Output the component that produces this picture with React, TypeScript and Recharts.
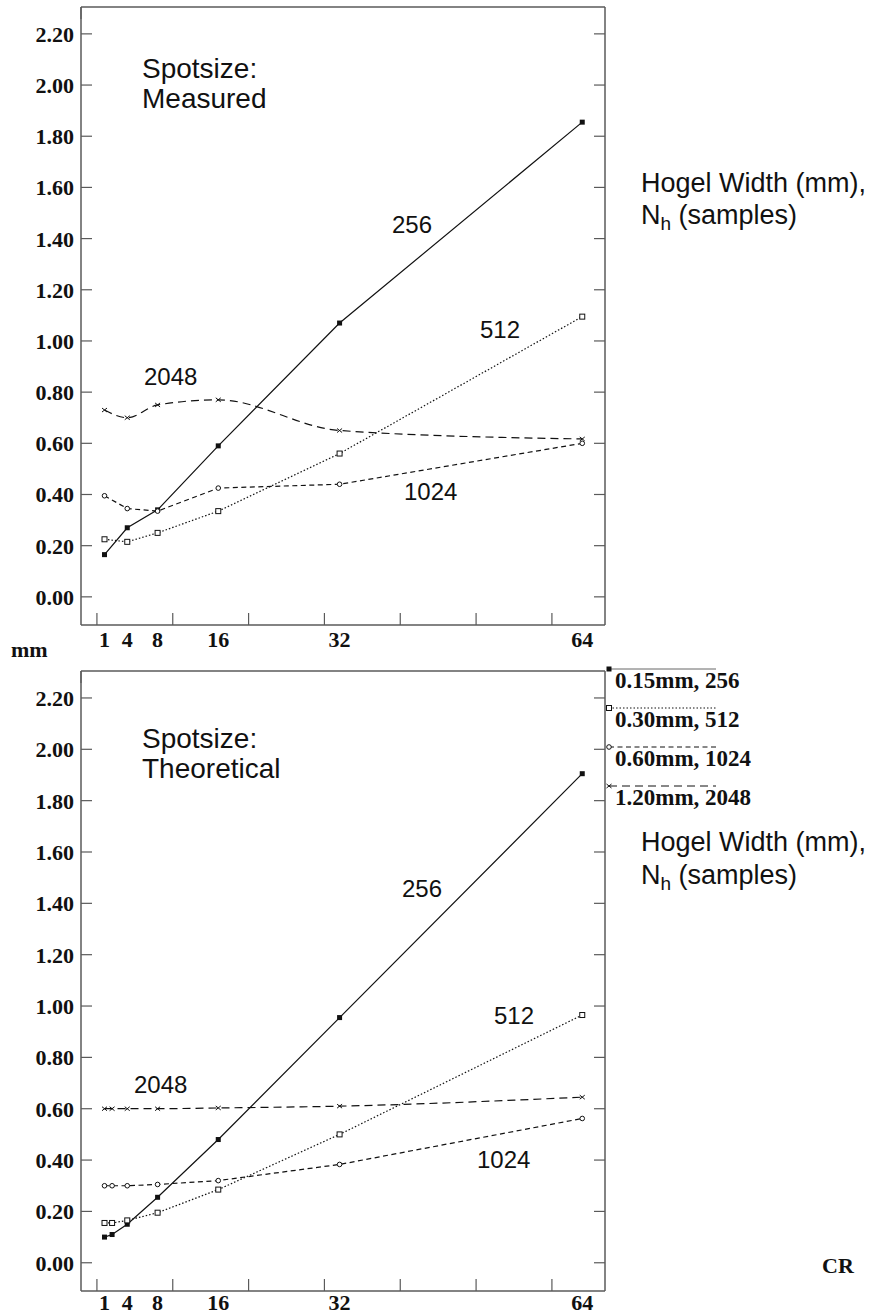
import { LineChart, Line, XAxis, YAxis } from "recharts";

// compression ratio (x) and spot size in mm (y)
const MEASURED_CR = [1, 4, 8, 16, 32, 64];
const MEASURED_256 = [0.165, 0.27, 0.34, 0.59, 1.07, 1.855];
const MEASURED_512 = [0.225, 0.215, 0.25, 0.335, 0.56, 1.095];
const MEASURED_1024 = [0.395, 0.345, 0.335, 0.425, 0.44, 0.6];
const MEASURED_2048 = [0.73, 0.7, 0.75, 0.77, 0.65, 0.617];

const THEORY_CR = [1, 2, 4, 8, 16, 32, 64];
const THEORY_256 = [0.1, 0.11, 0.15, 0.255, 0.48, 0.955, 1.905];
const THEORY_512 = [0.155, 0.155, 0.165, 0.195, 0.285, 0.5, 0.965];
const THEORY_1024 = [0.3, 0.3, 0.3, 0.305, 0.32, 0.383, 0.562];
const THEORY_2048 = [0.6, 0.6, 0.6, 0.6, 0.603, 0.61, 0.645];

const Y_TICKS = [0, 0.2, 0.4, 0.6, 0.8, 1, 1.2, 1.4, 1.6, 1.8, 2, 2.2];
const X_MARKS = [0, 10, 20, 30, 40, 50, 60];
const X_LABELS = [1, 4, 8, 16, 32, 64];
const LEGEND_LABELS = ["0.15mm, 256", "0.30mm, 512", "0.60mm, 1024", "1.20mm, 2048"];

const X_DOMAIN: [number, number] = [-2.1, 67];
const Y_DOMAIN: [number, number] = [-0.11, 2.305];

const FRAME = "#5a5a5a";
const INK = "#111";
const SERIF = "'Liberation Serif', 'Times New Roman', serif";
const SANS = "'Liberation Sans', Arial, Helvetica, sans-serif";

const SERIES = [
  { key: "s256", dash: undefined, marker: "filledSquare", curve: "linear" },
  { key: "s512", dash: "1.5 2", marker: "openSquare", curve: "linear" },
  { key: "s1024", dash: "5 3.5", marker: "openCircle", curve: "linear" },
  { key: "s2048", dash: "8 5", marker: "cross", curve: "monotone" },
];

const measuredData = MEASURED_CR.map((cr, i) => ({
  cr,
  s256: MEASURED_256[i],
  s512: MEASURED_512[i],
  s1024: MEASURED_1024[i],
  s2048: MEASURED_2048[i],
}));

const theoryData = THEORY_CR.map((cr, i) => ({
  cr,
  s256: THEORY_256[i],
  s512: THEORY_512[i],
  s1024: THEORY_1024[i],
  s2048: THEORY_2048[i],
}));

function Marker({ cx, cy, kind }: { cx: number; cy: number; kind: string }) {
  if (cx == null || cy == null) return null;
  if (kind === "filledSquare")
    return <rect x={cx - 2.5} y={cy - 2.5} width={5} height={5} fill={INK} />;
  if (kind === "openSquare")
    return <rect x={cx - 2.5} y={cy - 2.5} width={5} height={5} fill="#fff" stroke={INK} strokeWidth={1} />;
  if (kind === "openCircle")
    return <circle cx={cx} cy={cy} r={2.3} fill="#fff" stroke={INK} strokeWidth={1} />;
  return (
    <g stroke={INK} strokeWidth={1}>
      <line x1={cx - 2.5} y1={cy - 2} x2={cx + 2.5} y2={cy + 2} />
      <line x1={cx - 2.5} y1={cy + 2} x2={cx + 2.5} y2={cy - 2} />
    </g>
  );
}

const makeBottomTick = (labelDy: number) => (p: any) => {
  const v = p.payload.value;
  return (
    <g>
      {X_MARKS.includes(v) && <line x1={p.x} x2={p.x} y1={p.y} y2={p.y - 12} stroke={FRAME} strokeWidth={1.2} />}
      {X_LABELS.includes(v) && (
        <text x={p.x} y={p.y + labelDy} textAnchor="middle" fontFamily={SERIF} fontWeight="bold" fontSize={22} fill={INK}>
          {v}
        </text>
      )}
    </g>
  );
};

const TopTick = (p: any) => (
  <line x1={p.x} x2={p.x} y1={p.y} y2={p.y + 12} stroke={FRAME} strokeWidth={1.2} />
);

const LeftTick = (p: any) => (
  <g>
    <line x1={p.x} x2={p.x + 11} y1={p.y} y2={p.y} stroke={FRAME} strokeWidth={1.2} />
    <text x={p.x - 7} y={p.y + 8} textAnchor="end" fontFamily={SERIF} fontWeight="bold" fontSize={22} fill={INK}>
      {Number(p.payload.value).toFixed(2)}
    </text>
  </g>
);

const RightTick = (p: any) => (
  <line x1={p.x - 11} x2={p.x} y1={p.y} y2={p.y} stroke={FRAME} strokeWidth={1.2} />
);

function SpotChart({
  data,
  height,
  bottomAxis,
  labelDy,
}: {
  data: any[];
  height: number;
  bottomAxis: number;
  labelDy: number;
}) {
  const axisLine = { stroke: FRAME, strokeWidth: 1.5 };
  return (
    <LineChart width={620} height={height} data={data} margin={{ top: 0, right: 0, bottom: 0, left: 0 }}>
      <XAxis
        dataKey="cr"
        type="number"
        domain={X_DOMAIN}
        allowDataOverflow
        ticks={[...X_MARKS, ...X_LABELS].sort((a, b) => a - b)}
        interval={0}
        tickSize={0}
        tickMargin={0}
        tick={makeBottomTick(labelDy)}
        axisLine={axisLine}
        tickLine={false}
        height={bottomAxis}
      />
      <XAxis
        xAxisId="top"
        orientation="top"
        type="number"
        domain={X_DOMAIN}
        allowDataOverflow
        ticks={X_MARKS}
        interval={0}
        tickSize={0}
        tickMargin={0}
        tick={TopTick}
        axisLine={axisLine}
        tickLine={false}
        height={7}
      />
      <YAxis
        type="number"
        domain={Y_DOMAIN}
        allowDataOverflow
        ticks={Y_TICKS}
        interval={0}
        tickSize={0}
        tickMargin={0}
        tick={LeftTick}
        axisLine={axisLine}
        tickLine={false}
        width={81}
      />
      <YAxis
        yAxisId="right"
        orientation="right"
        type="number"
        domain={Y_DOMAIN}
        allowDataOverflow
        ticks={Y_TICKS}
        interval={0}
        tickSize={0}
        tickMargin={0}
        tick={RightTick}
        axisLine={axisLine}
        tickLine={false}
        width={15}
      />
      {SERIES.map((s) => (
        <Line
          key={s.key}
          type={s.curve as any}
          dataKey={s.key}
          stroke={INK}
          strokeWidth={1.2}
          strokeDasharray={s.dash}
          dot={(d: any) => <Marker key={`${s.key}-${d.index}`} cx={d.cx} cy={d.cy} kind={s.marker} />}
          activeDot={false}
          isAnimationActive={false}
        />
      ))}
    </LineChart>
  );
}

function Overlay() {
  const label = { fontFamily: SANS, fill: INK };
  const bold = { fontFamily: SERIF, fontWeight: "bold" as const, fontSize: 22, fill: INK };
  const legendY = [669, 708, 747, 786];
  return (
    <svg width={886} height={1316} style={{ position: "absolute", left: 0, top: 0, pointerEvents: "none" }}>
      {/* measured panel */}
      <text x={142} y={78} fontSize={28} {...label}>Spotsize:</text>
      <text x={142} y={108} fontSize={28} {...label}>Measured</text>
      <text x={392} y={233} fontSize={24} {...label}>256</text>
      <text x={480} y={338} fontSize={24} {...label}>512</text>
      <text x={144} y={385} fontSize={24} {...label}>2048</text>
      <text x={404} y={500} fontSize={24} {...label}>1024</text>
      <text x={641} y={192} fontSize={27} {...label}>Hogel Width (mm),</text>
      <text x={641} y={224} fontSize={27} {...label}>
        N<tspan fontSize={19} dy={6}>h</tspan>
        <tspan dy={-6}> (samples)</tspan>
      </text>

      {/* theoretical panel */}
      <text x={142} y={748} fontSize={28} {...label}>Spotsize:</text>
      <text x={142} y={778} fontSize={28} {...label}>Theoretical</text>
      <text x={402} y={897} fontSize={24} {...label}>256</text>
      <text x={494} y={1024} fontSize={24} {...label}>512</text>
      <text x={134} y={1093} fontSize={24} {...label}>2048</text>
      <text x={477} y={1168} fontSize={24} {...label}>1024</text>
      <text x={641} y={851} fontSize={27} {...label}>Hogel Width (mm),</text>
      <text x={641} y={884} fontSize={27} {...label}>
        N<tspan fontSize={19} dy={6}>h</tspan>
        <tspan dy={-6}> (samples)</tspan>
      </text>

      <text x={11} y={657} {...bold}>mm</text>
      <text x={822} y={1273} {...bold}>CR</text>

      {/* legend */}
      {SERIES.map((s, i) => (
        <g key={s.key}>
          <line x1={609} x2={716} y1={legendY[i]} y2={legendY[i]} stroke={i === 0 ? "#666" : INK} strokeWidth={1} strokeDasharray={s.dash} />
          <Marker cx={609} cy={legendY[i]} kind={s.marker} />
          <text x={615} y={legendY[i] + 19} {...bold} fontSize={23}>{LEGEND_LABELS[i]}</text>
        </g>
      ))}
    </svg>
  );
}

export default function App() {
  return (
    <div style={{ position: "absolute", left: 0, top: 0, width: 886, height: 1316, background: "#fff" }}>
      <div style={{ position: "absolute", left: 0, top: 0 }}>
        <SpotChart data={measuredData} height={660} bottomAxis={35} labelDy={22} />
      </div>
      <div style={{ position: "absolute", left: 0, top: 664 }}>
        <SpotChart data={theoryData} height={652} bottomAxis={25} labelDy={19} />
      </div>
      <Overlay />
    </div>
  );
}
